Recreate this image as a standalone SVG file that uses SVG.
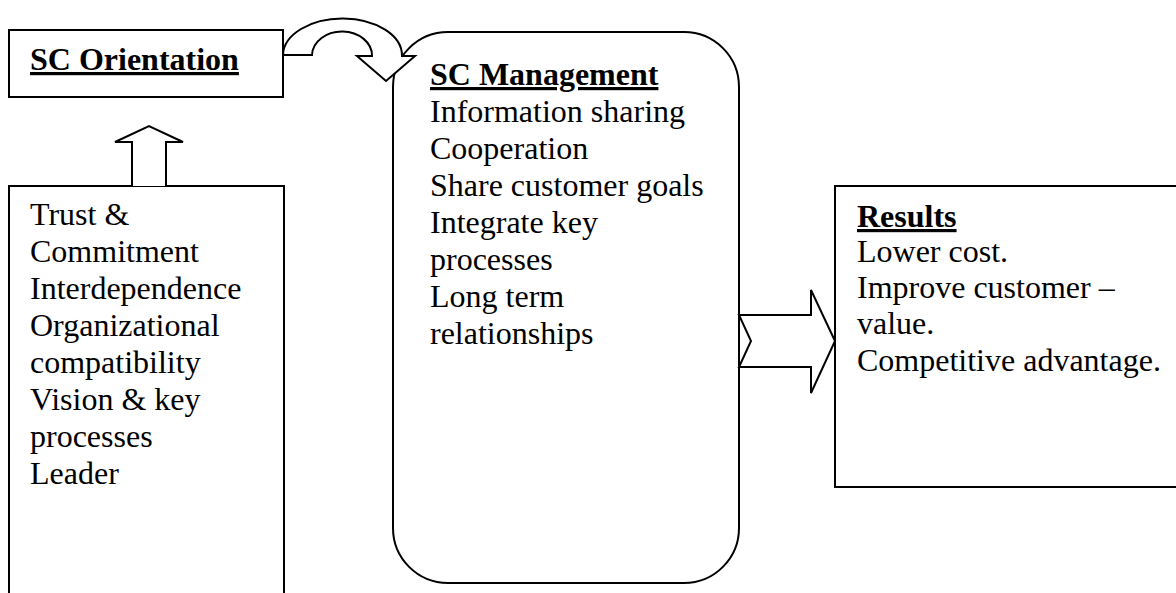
<svg xmlns="http://www.w3.org/2000/svg" width="1176" height="593" viewBox="0 0 1176 593">
<style>
.box{fill:#fff;stroke:#000;stroke-width:2}
.arrow{fill:#fff;stroke:#000;stroke-width:2;stroke-linejoin:miter}
text{font-family:"Liberation Serif","Times New Roman",serif;font-size:32px;fill:#000}
.h{font-weight:bold;text-decoration:underline}
</style>
<rect width="1176" height="593" fill="#fff"/>
<g id="sc-management">
<rect class="box" x="393" y="32" width="346" height="551" rx="55" ry="55"/>
<text x="430" y="85" class="h">SC Management</text>
<text x="430" y="122">Information sharing</text>
<text x="430" y="159">Cooperation</text>
<text x="430" y="196">Share customer goals</text>
<text x="430" y="233">Integrate key</text>
<text x="430" y="270">processes</text>
<text x="430" y="307">Long term</text>
<text x="430" y="344">relationships</text>
</g>
<g id="sc-orientation">
<rect class="box" x="9" y="30" width="274" height="67"/>
<text x="30" y="70" class="h">SC Orientation</text>
</g>
<g id="antecedents">
<path class="box" d="M9,600 V186 H284 V600"/>
<text x="30" y="225">Trust &amp;</text>
<text x="30" y="262">Commitment</text>
<text x="30" y="299">Interdependence</text>
<text x="30" y="336">Organizational</text>
<text x="30" y="373">compatibility</text>
<text x="30" y="410">Vision &amp; key</text>
<text x="30" y="447">processes</text>
<text x="30" y="484">Leader</text>
</g>
<g id="results">
<path class="box" d="M1180,186 H835 V487 H1180"/>
<text x="857" y="227" class="h">Results</text>
<text x="857" y="262">Lower cost.</text>
<text x="857" y="298">Improve customer –</text>
<text x="857" y="334">value.</text>
<text x="857" y="371">Competitive advantage.</text>
</g>
<g id="connectors">
<path class="arrow" d="M132,186 V142 H115 L149,126 L183,142 H166 V186"/>
<path class="arrow" d="M283,55 A59.5,37 0 0 1 402,56 L415,56 L386,81 L357,56 L372,56 A30,24 0 0 0 312,55 Z"/>
<path class="arrow" d="M739,315 H811 V290 L835,341 L811,393 V367 H739 L751,341 Z"/>
</g>
</svg>
